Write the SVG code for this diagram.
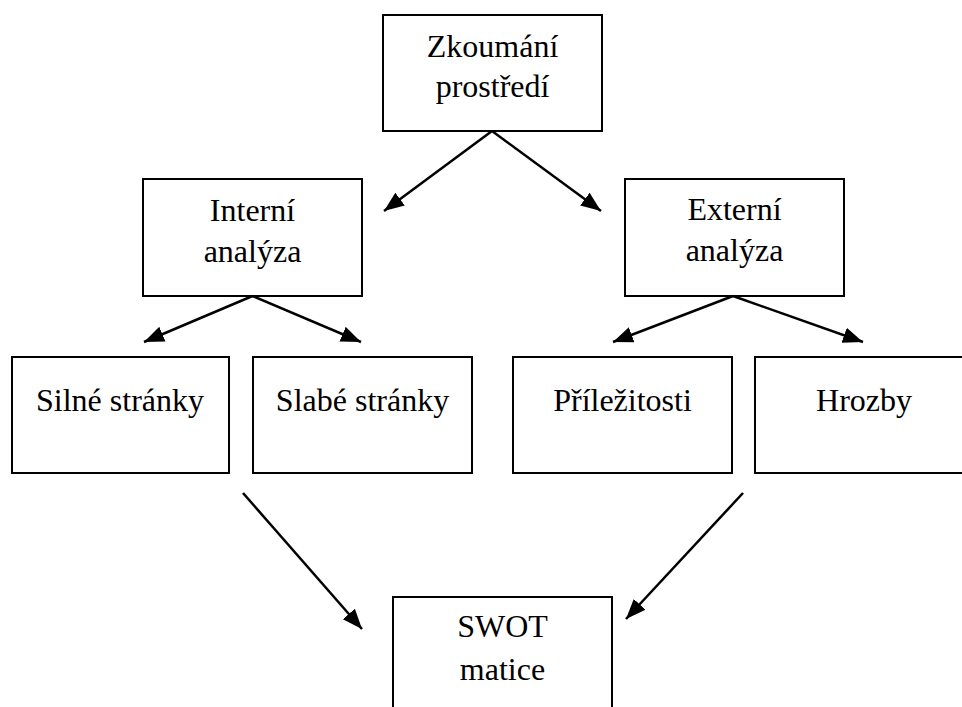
<svg xmlns="http://www.w3.org/2000/svg" width="962" height="707" viewBox="0 0 962 707">
<style>
.box{fill:#fff;stroke:#000;stroke-width:2}
.t{font-family:"Liberation Serif","Times New Roman",serif;font-size:32px;fill:#000;text-anchor:middle}
.c{stroke:#000;stroke-width:2.5;fill:none;marker-end:url(#ah)}
</style>
<defs>
<marker id="ah" markerUnits="userSpaceOnUse" markerWidth="22" markerHeight="18" refX="20" refY="8" orient="auto">
<path d="M0,0 L20,8 L0,16 Z" fill="#000"/>
</marker>
</defs>
<rect width="962" height="707" fill="#fff"/>
<g id="zkoumani">
<rect class="box" x="383" y="15" width="219" height="116"/>
<text class="t" x="492.5" y="57">Zkoumání</text>
<text class="t" x="492.5" y="97">prostředí</text>
</g>
<g id="interni">
<rect class="box" x="143" y="179" width="219" height="117"/>
<text class="t" x="252.5" y="221">Interní</text>
<text class="t" x="252.5" y="262">analýza</text>
</g>
<g id="externi">
<rect class="box" x="625" y="179" width="219" height="117"/>
<text class="t" x="734.5" y="220">Externí</text>
<text class="t" x="734.5" y="261">analýza</text>
</g>
<g id="silne">
<rect class="box" x="12" y="357" width="217" height="116"/>
<text class="t" x="120" y="411">Silné stránky</text>
</g>
<g id="slabe">
<rect class="box" x="253" y="357" width="219" height="116"/>
<text class="t" x="362.5" y="411">Slabé stránky</text>
</g>
<g id="prilezitosti">
<rect class="box" x="513" y="357" width="219" height="116"/>
<text class="t" x="622.5" y="411">Příležitosti</text>
</g>
<g id="hrozby">
<rect class="box" x="755" y="357" width="220" height="116"/>
<text class="t" x="864" y="411">Hrozby</text>
</g>
<g id="swot">
<rect class="box" x="393" y="597" width="219" height="130"/>
<text class="t" x="502.5" y="637">SWOT</text>
<text class="t" x="502.5" y="680">matice</text>
</g>
<g id="connectors">
<line class="c" x1="492" y1="131" x2="384" y2="211"/>
<line class="c" x1="492" y1="131" x2="601" y2="211"/>
<line class="c" x1="252.5" y1="296" x2="144" y2="342"/>
<line class="c" x1="252.5" y1="296" x2="361" y2="342"/>
<line class="c" x1="733" y1="296" x2="613" y2="342"/>
<line class="c" x1="733" y1="296" x2="863" y2="342"/>
<line class="c" x1="243" y1="493" x2="362" y2="629"/>
<line class="c" x1="743" y1="493" x2="626" y2="619"/>
</g>
</svg>
